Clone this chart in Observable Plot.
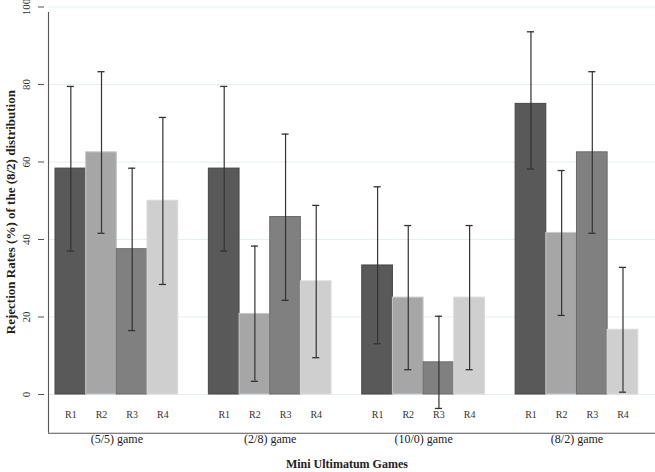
<!DOCTYPE html>
<html>
<head>
<meta charset="utf-8">
<script src="https://cdn.jsdelivr.net/npm/d3@7"></script>
<script src="https://cdn.jsdelivr.net/npm/@observablehq/plot@0.6"></script>
<style>
  html, body { margin: 0; padding: 0; background: #fff; }
  #chart svg { display: block; font-family: "Liberation Serif", "DejaVu Serif", serif !important; }
  #chart svg text, #chart svg g { font-family: "Liberation Serif", "DejaVu Serif", serif !important; }
</style>
</head>
<body>
<div id="chart"></div>
<script>
const games = ["(5/5) game", "(2/8) game", "(10/0) game", "(8/2) game"];
const rounds = ["R1", "R2", "R3", "R4"];
const barColors = ["#595959", "#a6a6a6", "#808080", "#cfcfcf"];
const barOutlines = ["#474747", "#c4c8cc", "#6c6c6c", "#d8dadc"];

// rejection rates (%) per game, rounds R1..R4
const rate55 = [58.3, 62.5, 37.5, 50.0];
const rate28 = [58.3, 20.8, 45.8, 29.2];
const rate100 = [33.3, 25.0, 8.3, 25.0];
const rate82 = [75.0, 41.7, 62.5, 16.7];
// confidence intervals
const lo55 = [37.0, 41.6, 16.5, 28.4];
const hi55 = [79.5, 83.3, 58.4, 71.5];
const lo28 = [37.0, 3.4, 24.3, 9.5];
const hi28 = [79.5, 38.3, 67.2, 48.8];
const lo100 = [13.1, 6.4, -3.6, 6.4];
const hi100 = [53.6, 43.6, 20.2, 43.6];
const lo82 = [58.2, 20.4, 41.6, 0.6];
const hi82 = [93.6, 57.8, 83.3, 32.8];

const yTicks = [0, 20, 40, 60, 80, 100];
const yTitle = "Rejection Rates (%) of the (8/2) distribution";
const xTitle = "Mini Ultimatum Games";

const rates = [rate55, rate28, rate100, rate82];
const los = [lo55, lo28, lo100, lo82];
const his = [hi55, hi28, hi100, hi82];

const step = rounds.length + 1; // one empty slot between groups
const rows = [];
games.forEach((g, gi) => rounds.forEach((r, ri) => {
  rows.push({game: g, round: r, ri, slot: gi * step + ri,
             value: rates[gi][ri], lo: los[gi][ri], hi: his[gi][ri]});
}));
const groupRows = games.map((g, gi) => ({game: g, center: gi * step + rounds.length / 2}));
const xCenter = (rows[0].slot + rows[rows.length - 1].slot + 1) / 2;

const xDomain = [-0.228, 19.56];
const yDomain = [-10, 100];
const serif = "Liberation Serif, DejaVu Serif, serif";

const plot = Plot.plot({
  width: 655,
  height: 472,
  marginLeft: 48,
  marginRight: 0,
  marginTop: 6.5,
  marginBottom: 39.25,
  style: {fontFamily: serif, background: "#fff"},
  x: {type: "linear", domain: xDomain, axis: null},
  y: {domain: yDomain, axis: null},
  marks: [
    Plot.ruleY(yTicks, {stroke: "#e6edf0", strokeWidth: 1}),
    Plot.rectY(rows, {
      x1: "slot", x2: d => d.slot + 1, y1: 0, y2: "value",
      fill: d => barColors[d.ri], stroke: d => barOutlines[d.ri], strokeWidth: 1
    }),
    Plot.ruleX(rows, {x: d => d.slot + 0.5, y1: "lo", y2: "hi", stroke: "#333", strokeWidth: 1.2}),
    Plot.ruleY(rows, {x1: "slot", x2: d => d.slot + 1, y: "hi", insetLeft: 11.8, insetRight: 11.8, stroke: "#333", strokeWidth: 1.3}),
    Plot.ruleY(rows, {x1: "slot", x2: d => d.slot + 1, y: "lo", insetLeft: 11.8, insetRight: 11.8, stroke: "#333", strokeWidth: 1.3}),
    // axis lines
    Plot.ruleX([xDomain[0]], {y1: yDomain[0], y2: 98.6, stroke: "#555", strokeWidth: 1.1}),
    Plot.ruleY([yDomain[0]], {stroke: "#555", strokeWidth: 1.1}),
    // y axis ticks and labels
    Plot.axisY(yTicks, {
      tickSize: 6, tickPadding: 9, dx: -4, tickRotate: -90,
      fontSize: 11, stroke: "#555", color: "#333", label: null, fontFamily: serif
    }),
    Plot.text([yTitle], {
      frameAnchor: "left", dx: -38, dy: -8, rotate: -90, textAnchor: "middle",
      fontSize: 13, fontWeight: "bold", fill: "#222", fontFamily: serif
    }),
    // round labels inside the frame
    Plot.text(rows, {
      x: d => d.slot + 0.5, text: "round", frameAnchor: "bottom", dy: -18,
      lineAnchor: "middle", fontSize: 10, fill: "#333", fontFamily: serif
    }),
    // game labels below the axis
    Plot.text(groupRows, {
      x: "center", text: "game", frameAnchor: "bottom", dy: 1,
      lineAnchor: "top", fontSize: 12, fill: "#222", fontFamily: serif
    }),
    Plot.text([xTitle], {
      x: () => xCenter, frameAnchor: "bottom", dy: 31, lineAnchor: "middle",
      fontSize: 12, fontWeight: "bold", fill: "#222", fontFamily: serif
    })
  ]
});
document.getElementById("chart").appendChild(plot);
</script>
</body>
</html>
